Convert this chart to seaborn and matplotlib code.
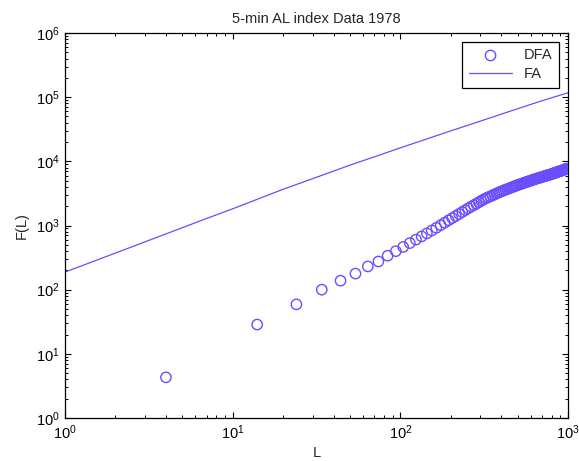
import numpy as np
import pandas as pd
import matplotlib
matplotlib.use("Agg")
import matplotlib.pyplot as plt
import seaborn as sns

# ---- data ----
dfa_L = list(range(4, 1000, 10))
dfa_F = [4.3, 28.6, 59, 100, 138, 178, 230, 275, 338, 398,
         463, 532, 603, 676, 753, 836, 920, 1014, 1107, 1205,
         1306, 1406, 1514, 1622, 1734, 1853, 1963, 2075, 2188, 2301,
         2427, 2545, 2649, 2748, 2844, 2944, 3041, 3148, 3243, 3342,
         3436, 3524, 3606, 3690, 3776, 3864, 3954, 4036, 4121, 4207,
         4285, 4365, 4436, 4519, 4592, 4677, 4742, 4819, 4887, 4977,
         5047, 5117, 5200, 5272, 5333, 5408, 5470, 5534, 5598, 5662,
         5728, 5794, 5861, 5929, 5998, 6053, 6109, 6180, 6237, 6310,
         6368, 6457, 6531, 6592, 6653, 6730, 6808, 6887, 6950, 7015,
         7079, 7161, 7228, 7295, 7379, 7447, 7516, 7586, 7656, 7709]

fa_L = [1, 2, 3, 5, 7, 10, 20, 30, 50, 70, 100, 150, 200, 300, 500, 700, 1000]
fa_F = [188, 372, 556, 923, 1288, 1820, 3673, 5370, 8710, 11750, 16220,
        23170, 29850, 42300, 66000, 88000, 117000]

title = "5-min AL index Data 1978"
xlabel = "L"
ylabel = "F(L)"
series_names = ["DFA", "FA"]

# ---- style ----
sns.set_style("ticks")
plt.rcParams["font.family"] = ["Liberation Sans", "DejaVu Sans"]
plt.rcParams["mathtext.fontset"] = "custom"
plt.rcParams["mathtext.rm"] = "Liberation Sans"
plt.rcParams["mathtext.it"] = "Liberation Sans"
plt.rcParams["mathtext.bf"] = "Liberation Sans"
plt.rcParams["mathtext.default"] = "regular"

color = "#6a4dff"
fs = 10.5

fig = plt.figure(figsize=(5.79, 4.61), dpi=100)
ax = fig.add_axes([65/579, 1 - 418/461, (568-65)/579, (418-33)/461])

dfa = pd.DataFrame({"L": dfa_L, "F": dfa_F})
fa = pd.DataFrame({"L": fa_L, "F": fa_F})

sns.scatterplot(data=dfa, x="L", y="F", ax=ax, marker="o", s=55,
                facecolors="none", edgecolor=color, linewidth=1.0,
                label=series_names[0], zorder=3)
sns.lineplot(data=fa, x="L", y="F", ax=ax, color=color, linewidth=0.9,
             label=series_names[1], zorder=2)

ax.set_xscale("log")
ax.set_yscale("log")
ax.set_xlim(1, 1000)
ax.set_ylim(1, 1e6)

for s in ax.spines.values():
    s.set_visible(True)
    s.set_linewidth(0.9)
    s.set_color("black")

ax.tick_params(which="both", direction="in", top=True, right=True,
               labelsize=fs, colors="black")
ax.tick_params(which="major", length=4, width=0.8, pad=4)
ax.tick_params(which="minor", length=2.5, width=0.7)
ax.yaxis.set_major_locator(matplotlib.ticker.LogLocator(base=10, numticks=10))
ax.yaxis.set_minor_locator(matplotlib.ticker.LogLocator(base=10, subs=np.arange(2, 10), numticks=20))
ax.xaxis.set_minor_locator(matplotlib.ticker.LogLocator(base=10, subs=np.arange(2, 10), numticks=20))
ax.yaxis.set_minor_formatter(matplotlib.ticker.NullFormatter())
ax.xaxis.set_minor_formatter(matplotlib.ticker.NullFormatter())

ax.set_title(title, fontsize=fs, pad=7)
ax.set_xlabel(xlabel, fontsize=fs, labelpad=3)
ax.set_ylabel(ylabel, fontsize=fs, labelpad=5)

leg = ax.legend(loc="upper right", fontsize=fs, frameon=True, fancybox=False,
                edgecolor="black", borderaxespad=0.6, handlelength=3.0,
                borderpad=0.45, labelspacing=0.35, handletextpad=0.8,
                markerfirst=True)
leg.get_frame().set_linewidth(0.9)
leg.get_frame().set_alpha(1)

fig.savefig("out.png", dpi=100)
